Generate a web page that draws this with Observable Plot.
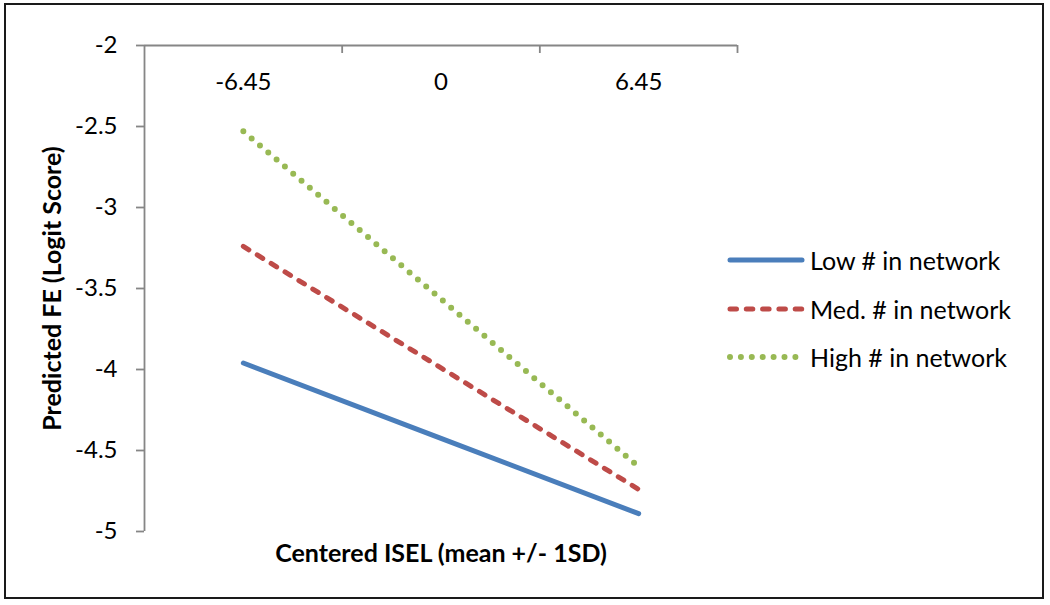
<!DOCTYPE html>
<html>
<head>
<meta charset="utf-8">
<script src="https://cdn.jsdelivr.net/npm/d3@7"></script>
<script src="https://cdn.jsdelivr.net/npm/@observablehq/plot@0.6"></script>
<style>
  body { margin: 0; background: #fff; font-family: Lato, "Open Sans", sans-serif; }
  #wrap { position: relative; width: 1050px; height: 605px; overflow: hidden; }
  #border { position: absolute; left: 4px; top: 3px; width: 1036px; height: 592px; border: 2px solid #1a1a1a; }
  #chart { position: absolute; left: 0; top: 0; }
  #chart svg g[aria-label^="y-axis"] line,
  #chart svg g[aria-label^="y-axis"] path { stroke: #868686 !important; stroke-width: 1.8px !important; }
  #chart svg g[aria-label^="y-axis"] text { font-size: 24px !important; fill: #000 !important; }
  #legend { position: absolute; left: 724px; top: 236px; }
  .row { display: flex; align-items: center; height: 48.5px; font-size: 25px; color: #000; }
  .row svg { margin-right: 4px; }
</style>
</head>
<body>
<div id="wrap">
  <div id="border"></div>
  <div id="chart"></div>
  <div id="legend"></div>
</div>
<script>
// ---- data ----
const xValues = [-6.45, 0, 6.45];
const xLabels = ["-6.45", "0", "6.45"];
const lowValues = [-3.96, -4.425, -4.89];
const medValues = [-3.24, -3.99, -4.74];
const highValues = [-2.53, -3.565, -4.60];
const seriesNames = ["Low # in network", "Med. # in network", "High # in network"];
const yTicks = [-5, -4.5, -4, -3.5, -3, -2.5, -2];
const xDomain = [-9.675, 9.675];
const xBoundaries = [-3.225, 3.225, 9.675];
const xTitle = "Centered ISEL (mean +/- 1SD)";
const yTitle = "Predicted FE (Logit Score)";

// ---- styles ----
const colors = ["#4a7ebb", "#be4b48", "#98b954"];
const dashes = [null, "6.5 9.8", "0 10.9"];
const widths = [5, 5, 6];
const axisGray = "#868686";

const seriesValues = [lowValues, medValues, highValues];
const table = seriesNames.flatMap((name, s) =>
  xValues.map((x, i) => ({series: name, x, y: seriesValues[s][i]})));

const lineMarks = seriesNames.map((name, s) =>
  Plot.line(table.filter(d => d.series === name), {
    x: "x", y: "y",
    stroke: colors[s], strokeWidth: widths[s],
    strokeDasharray: dashes[s], strokeLinecap: "round", strokeLinejoin: "round"
  }));

const fmt = d => String(d);
const yTop = yTicks[yTicks.length - 1];

const chart = Plot.plot({
  width: 1050,
  height: 605,
  marginLeft: 144,
  marginRight: 313,
  marginTop: 45,
  marginBottom: 74,
  style: {fontFamily: "Lato, 'Open Sans', sans-serif", fontSize: "24px", color: "#000", background: "transparent", overflow: "visible"},
  x: {domain: xDomain, axis: null},
  y: {domain: [yTicks[0], yTop], axis: "left", ticks: yTicks, tickSize: 8, tickPadding: 19, tickFormat: fmt, label: null},
  marks: [
    // axis lines
    Plot.ruleY([yTop], {stroke: axisGray, strokeWidth: 1.8}),
    Plot.ruleX([xDomain[0]], {stroke: axisGray, strokeWidth: 1.8}),
    // category boundary ticks on top axis (pointing down)
    Plot.ruleX(xBoundaries, {x: d => d, y1: yTop, y2: yTop, insetTop: 8, stroke: axisGray, strokeWidth: 1.8}),
    // category labels below top axis
    Plot.text(xValues, {x: d => d, text: (d, i) => xLabels[i], frameAnchor: "top", dy: 37, lineAnchor: "middle", fontSize: 24, fill: "#000"}),
    // axis titles
    Plot.text([xTitle], {frameAnchor: "bottom", dy: 22, textAnchor: "middle", lineAnchor: "middle", fontSize: 25, fontWeight: "bold", fill: "#000"}),
    Plot.text([yTitle], {frameAnchor: "left", dx: -92, rotate: -90, textAnchor: "middle", lineAnchor: "middle", fontSize: 25, fontWeight: "bold", fill: "#000"}),
    ...lineMarks
  ]
});
document.getElementById("chart").appendChild(chart);

// ---- legend ----
const legend = d3.select("#legend");
seriesNames.forEach((name, s) => {
  const row = legend.append("div").attr("class", "row");
  const svg = row.append("svg").attr("width", 82).attr("height", 12);
  svg.append("line")
    .attr("x1", 6).attr("x2", 78).attr("y1", 6).attr("y2", 6)
    .attr("stroke", colors[s]).attr("stroke-width", widths[s])
    .attr("stroke-linecap", "round")
    .attr("stroke-dasharray", dashes[s]);
  row.append("span").text(name);
});
</script>
</body>
</html>
